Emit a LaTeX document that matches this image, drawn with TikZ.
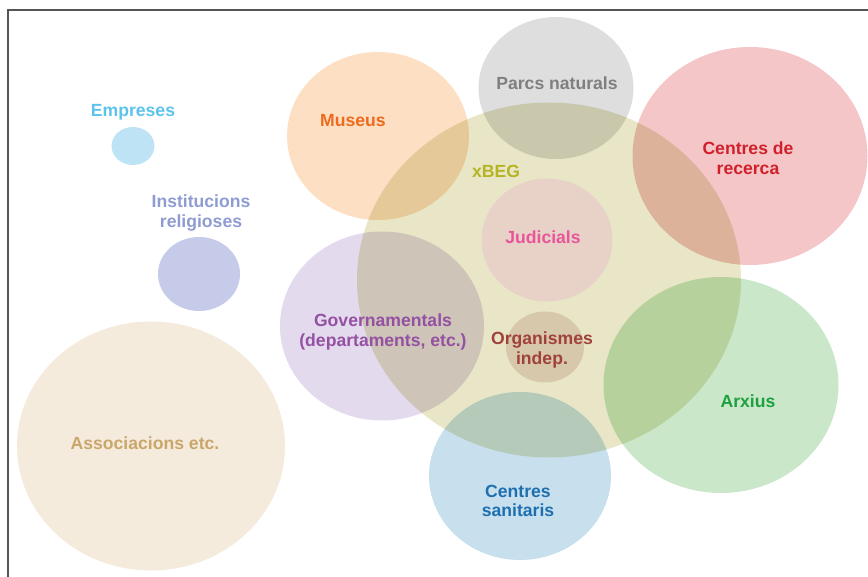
\documentclass[tikz,border=0pt]{standalone}
\usepackage{fontspec}
\newfontfamily\bubblefont{Liberation Sans}
\usetikzlibrary{shapes.geometric, positioning}

\definecolor{frameGray}{HTML}{555555}
\definecolor{empFill}{HTML}{BDE3F5}   \definecolor{empText}{HTML}{5CC3EC}
\definecolor{relFill}{HTML}{C5CBE8}   \definecolor{relText}{HTML}{8E9CD2}
\definecolor{assFill}{HTML}{F5EBDC}   \definecolor{assText}{HTML}{C9A66B}
\definecolor{musFill}{HTML}{FDDFC4}   \definecolor{musText}{HTML}{EE6A1E}
\definecolor{parFill}{HTML}{DEDEDE}   \definecolor{parText}{HTML}{7F7F7F}
\definecolor{recFill}{HTML}{F4C6C8}   \definecolor{recText}{HTML}{D1202B}
\definecolor{begFill}{HTML}{E8E6C6}   \definecolor{begText}{HTML}{B5B523}
\definecolor{judFill}{HTML}{FFE8FF}   \definecolor{judText}{HTML}{E8559A}
\definecolor{orgFill}{HTML}{EEDEDD}   \definecolor{orgText}{HTML}{A0413B}
\definecolor{govFill}{HTML}{E4DAEE}   \definecolor{govText}{HTML}{9450A2}
\definecolor{sanFill}{HTML}{C8E0EE}   \definecolor{sanText}{HTML}{1E6FB0}
\definecolor{arxFill}{HTML}{CAE8C9}   \definecolor{arxText}{HTML}{1FA03F}

\begin{document}
\begin{tikzpicture}[x=0.5pt, y=-0.5pt,
    bubble/.style={ellipse, draw=none, inner sep=0pt},
    tag/.style={font=\bubblefont\bfseries\fontsize{8.8}{9.8}\selectfont, align=center}]
   \useasboundingbox (0,0) rectangle (868,577);
   \draw[frameGray, line width=0.6pt] (8,577) -- (8,10) -- (868,10);
   \begin{scope}[blend mode=multiply]
   \node[bubble, fill=empFill, minimum width=21.5pt, minimum height=19pt]   (empreses)   at (133,146) {};
   \node[bubble, fill=relFill, minimum width=41pt, minimum height=37pt]     (religioses) at (199,274) {};
   \node[bubble, fill=assFill, minimum width=134pt, minimum height=124.5pt] (associacions) at (151,446) {};
   \node[bubble, fill=musFill, minimum width=91pt, minimum height=84pt]     (museus)     at (378,136) {};
   \node[bubble, fill=parFill, minimum width=77.5pt, minimum height=71pt]   (parcs)      at (556,88) {};
   \node[bubble, fill=recFill, minimum width=117.5pt, minimum height=109pt] (recerca)    at (750,156) {};
   \node[bubble, fill=begFill, minimum width=192pt, minimum height=177.5pt] (xbeg)       at (549,280) {};
   \node[bubble, fill=judFill, minimum width=65.5pt, minimum height=61.5pt] (judicials)  at (547,240) {};
   \node[bubble, fill=orgFill, minimum width=39pt, minimum height=35.5pt]   (organismes) at (545,347) {};
   \node[bubble, fill=govFill, minimum width=102pt, minimum height=94.5pt]  (govern)     at (382,326) {};
   \node[bubble, fill=sanFill, minimum width=91pt, minimum height=84pt]     (sanitaris)  at (520,476) {};
   \node[bubble, fill=arxFill, minimum width=117.5pt, minimum height=108pt] (arxius)     at (721,385) {};
   \end{scope}
   % labels
   \node[tag, text=empText] (empreses_t)   at (133,112) {Empreses};
   \node[tag, text=relText] (religioses_t) at (201,213) {Institucions\\religioses};
   \node[tag, text=assText] (associacions_t) at (145,443) {Associacions etc.};
   \node[tag, text=musText] (museus_t)     at (353,121) {Museus};
   \node[tag, text=parText] (parcs_t)      at (557,83) {Parcs naturals};
   \node[tag, text=recText] (recerca_t)    at (748,158) {Centres de\\recerca};
   \node[tag, text=begText] (xbeg_t)       at (496,171) {xBEG};
   \node[tag, text=judText] (judicials_t)  at (543,237) {Judicials};
   \node[tag, text=govText] (govern_t)     at (383,332) {Governamentals\\(departaments, etc.)};
   \node[tag, text=orgText] (organismes_t) at (542,350) {Organismes\\indep.};
   \node[tag, text=sanText] (sanitaris_t)  at (518,501) {Centres\\sanitaris};
   \node[tag, text=arxText] (arxius_t)     at (748,401) {Arxius};
\end{tikzpicture}
\end{document}
